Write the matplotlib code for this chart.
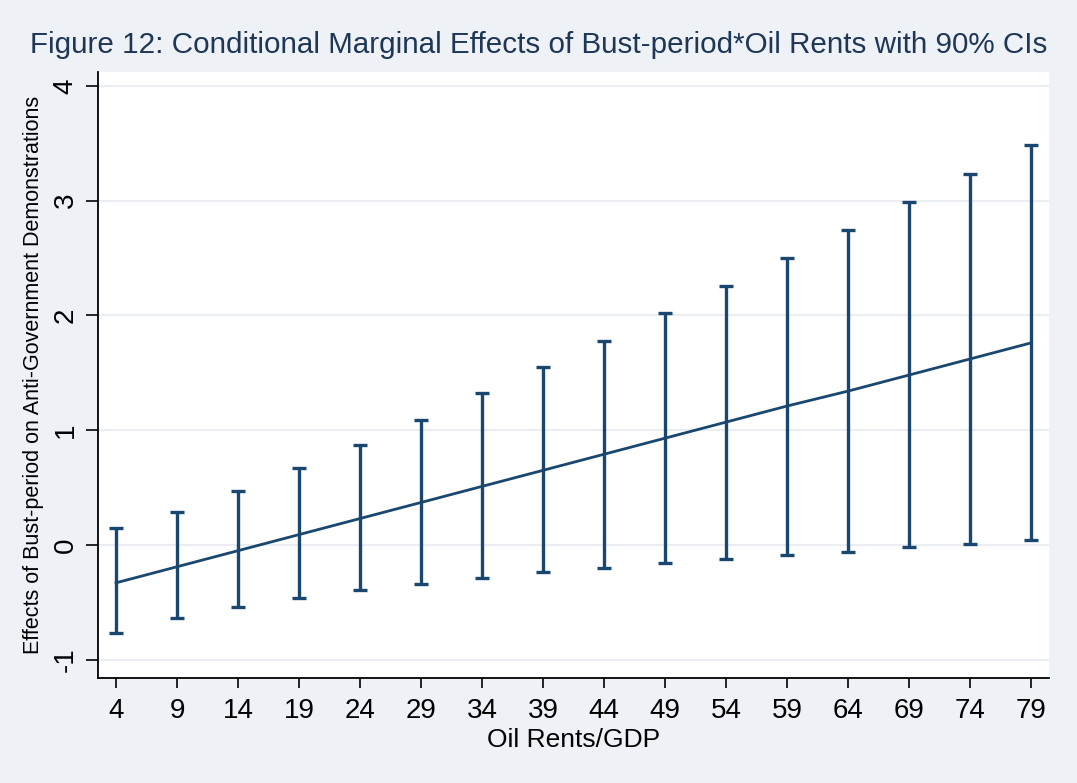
import matplotlib
matplotlib.use("Agg")
import matplotlib.pyplot as plt
import numpy as np

plt.rcParams['font.family'] = ['Liberation Sans', 'DejaVu Sans']

oil_rents = [4, 9, 14, 19, 24, 29, 34, 39, 44, 49, 54, 59, 64, 69, 74, 79]
effect = [-0.33, -0.19, -0.05, 0.09, 0.23, 0.37, 0.51, 0.65, 0.79, 0.93, 1.07, 1.21, 1.34, 1.48, 1.62, 1.76]
upper = [0.15, 0.29, 0.47, 0.67, 0.87, 1.09, 1.32, 1.55, 1.78, 2.02, 2.26, 2.50, 2.74, 2.99, 3.23, 3.48]
lower = [-0.77, -0.64, -0.54, -0.46, -0.39, -0.34, -0.285, -0.24, -0.20, -0.16, -0.12, -0.09, -0.06, -0.02, 0.01, 0.04]

navy = '#1a476f'
bg = '#eef1f6'

fig = plt.figure(figsize=(10.77, 7.83), dpi=100, facecolor=bg)
ax = fig.add_axes([0.091, 0.134, 0.883, 0.774])
ax.set_facecolor('white')

for y in [-1, 0, 1, 2, 3, 4]:
    ax.axhline(y, color='#eaeef2', lw=1.5, zorder=0)

ax.plot(oil_rents, effect, color=navy, lw=2.0, zorder=3)
eff = np.array(effect)
yerr = [eff - np.array(lower), np.array(upper) - eff]
ax.errorbar(oil_rents, effect, yerr=yerr, fmt='none', ecolor=navy,
            elinewidth=2.4, capsize=5, capthick=2.4, zorder=3)

ax.set_xlim(2.52, 80.48)
ax.set_ylim(-1.16, 4.12)
ax.set_xticks(oil_rents)
ax.set_xticklabels([str(v) for v in oil_rents], fontsize=20)
ax.set_yticks([-1, 0, 1, 2, 3, 4])
ax.set_yticklabels(['-1', '0', '1', '2', '3', '4'], fontsize=20, rotation=90, va='center')
ax.tick_params(axis='x', length=7, width=1.2, pad=7)
ax.tick_params(axis='y', length=9, width=1.2, pad=5)

for s in ['top', 'right']:
    ax.spines[s].set_visible(False)
for s in ['left', 'bottom']:
    ax.spines[s].set_linewidth(1.3)

ax.set_xlabel('Oil Rents/GDP', fontsize=19, labelpad=3)
ax.set_ylabel('Effects of Bust-period on Anti-Government Demonstrations', fontsize=15.5, labelpad=6)
fig.text(0.5, 0.942, 'Figure 12: Conditional Marginal Effects of Bust-period*Oil Rents with 90% CIs',
         ha='center', va='center', fontsize=21.3, color='#1e3756')

fig.savefig('out.png', dpi=100, facecolor=bg)
